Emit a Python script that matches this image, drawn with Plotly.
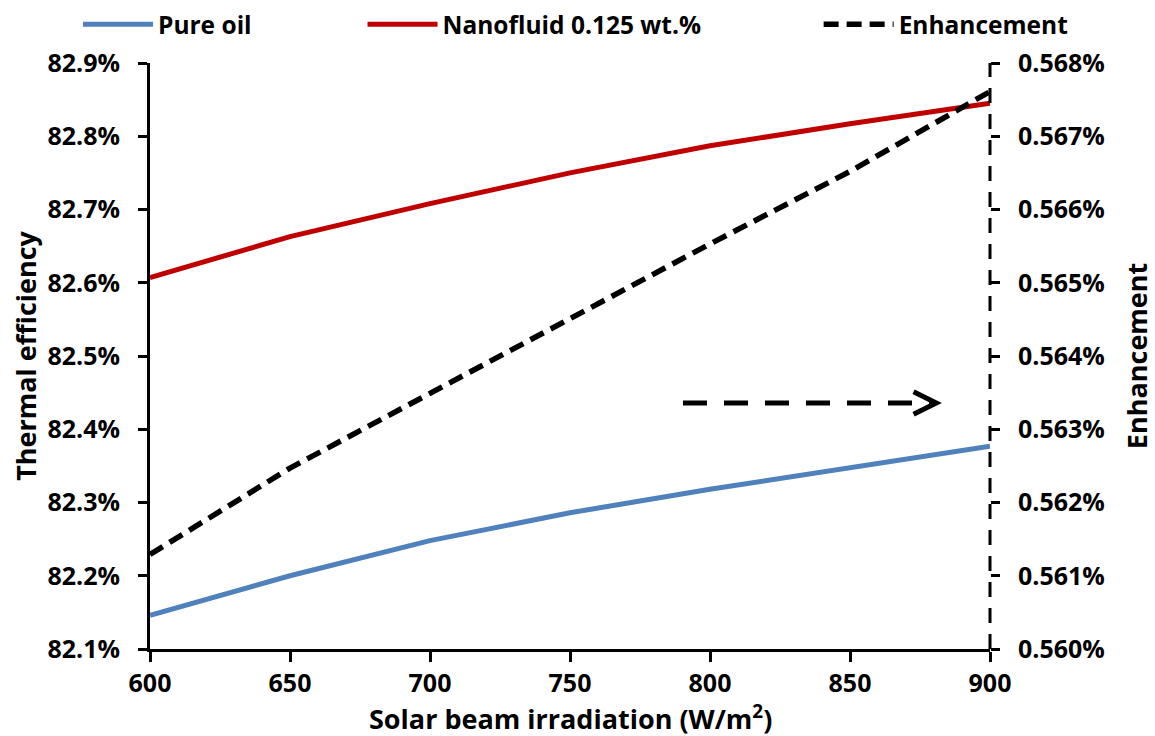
import plotly.graph_objects as go

# Solar beam irradiation (W/m2)
irradiation = [600, 650, 700, 750, 800, 850, 900]

# Thermal efficiency (%)
pure_oil = [82.146, 82.200, 82.248, 82.286, 82.318, 82.347, 82.377]
nanofluid = [82.607, 82.663, 82.708, 82.750, 82.787, 82.817, 82.845]

# Efficiency enhancement of the nanofluid over pure oil (%)
enhancement = [0.56129, 0.56247, 0.56349, 0.56451, 0.56553, 0.56652, 0.56761]

FONT = "Open Sans"
BLUE = "#4F81BD"
RED = "#C00000"
BLACK = "#000000"

fig = go.Figure()

fig.add_trace(go.Scatter(
    x=irradiation, y=pure_oil, name="Pure oil", mode="lines",
    line=dict(color=BLUE, width=5), legend="legend",
))
fig.add_trace(go.Scatter(
    x=irradiation, y=nanofluid, name="Nanofluid 0.125 wt.%", mode="lines",
    line=dict(color=RED, width=5), legend="legend2",
))
fig.add_trace(go.Scatter(
    x=irradiation, y=enhancement, name="Enhancement", mode="lines",
    line=dict(color=BLACK, width=5.5, dash="15px,8px"), yaxis="y2", legend="legend3",
))

tick_font = dict(family=FONT, size=25, color=BLACK, weight="bold")
legend_font = dict(family=FONT, size=24.5, color=BLACK, weight="bold")
title_font = dict(family=FONT, size=27, color=BLACK, weight="bold")

legend_common = dict(
    orientation="h", yanchor="middle", y=1.066, xanchor="left",
    font=legend_font, bgcolor="rgba(0,0,0,0)", itemwidth=70,
)

fig.update_layout(
    width=1155, height=736,
    margin=dict(l=150, r=165, t=63, b=87, autoexpand=False),
    paper_bgcolor="white", plot_bgcolor="white",
    font=dict(family=FONT, color=BLACK),
    showlegend=True,
    legend=dict(legend_common, x=-0.0857),
    legend2=dict(legend_common, x=0.253),
    legend3=dict(legend_common, x=0.796),
    xaxis=dict(
        range=[600, 900], dtick=50, tick0=600,
        showline=True, linecolor=BLACK, linewidth=3,
        ticks="outside", ticklen=10, tickwidth=3, tickcolor=BLACK,
        showgrid=False, zeroline=False, tickfont=tick_font,
    ),
    yaxis=dict(
        range=[82.1, 82.9], dtick=0.1, tick0=82.1,
        tickformat=".1f", ticksuffix="%",
        showline=True, linecolor=BLACK, linewidth=3,
        ticks="outside", ticklen=9, tickwidth=3, tickcolor=BLACK,
        ticklabelstandoff=13,
        showgrid=False, zeroline=False, tickfont=tick_font,
    ),
    yaxis2=dict(
        range=[0.560, 0.568], dtick=0.001, tick0=0.560,
        tickformat=".3f", ticksuffix="%",
        overlaying="y", side="right", showline=False,
        ticks="outside", ticklen=9, tickwidth=3, tickcolor=BLACK,
        ticklabelstandoff=13,
        showgrid=False, zeroline=False, tickfont=tick_font,
    ),
)

# Axis titles
fig.add_annotation(
    text="Thermal efficiency", textangle=-90, showarrow=False,
    xref="paper", yref="paper", x=-0.149, y=0.5, xanchor="center", yanchor="middle",
    font=title_font,
)
fig.add_annotation(
    text="Enhancement", textangle=-90, showarrow=False,
    xref="paper", yref="paper", x=1.174, y=0.5, xanchor="center", yanchor="middle",
    font=title_font,
)
fig.add_annotation(
    text="Solar beam irradiation (W/m<sup>2</sup>)", showarrow=False,
    xref="paper", yref="paper", x=0.5, y=-0.117, xanchor="center", yanchor="middle",
    font=title_font,
)

# Dashed secondary axis line at the right edge of the plot area
fig.add_shape(
    type="line", xref="paper", yref="paper", x0=1, x1=1, y0=0, y1=1,
    line=dict(color=BLACK, width=3, dash="15px,11px"), layer="above",
)

# Dashed arrow pointing to the secondary axis
ax0, ax1, ay = 0.6345, 0.936, 0.4198
fig.add_shape(
    type="line", xref="paper", yref="paper", x0=ax0, x1=ax1 - 0.004, y0=ay, y1=ay,
    line=dict(color=BLACK, width=5, dash="24px,17px"),
)
fig.add_shape(
    type="path", xref="paper", yref="paper",
    path=f"M {ax1 - 0.027} {ay + 0.019} L {ax1} {ay} L {ax1 - 0.027} {ay - 0.019}",
    line=dict(color=BLACK, width=5),
)

fig.write_html("out.html")
